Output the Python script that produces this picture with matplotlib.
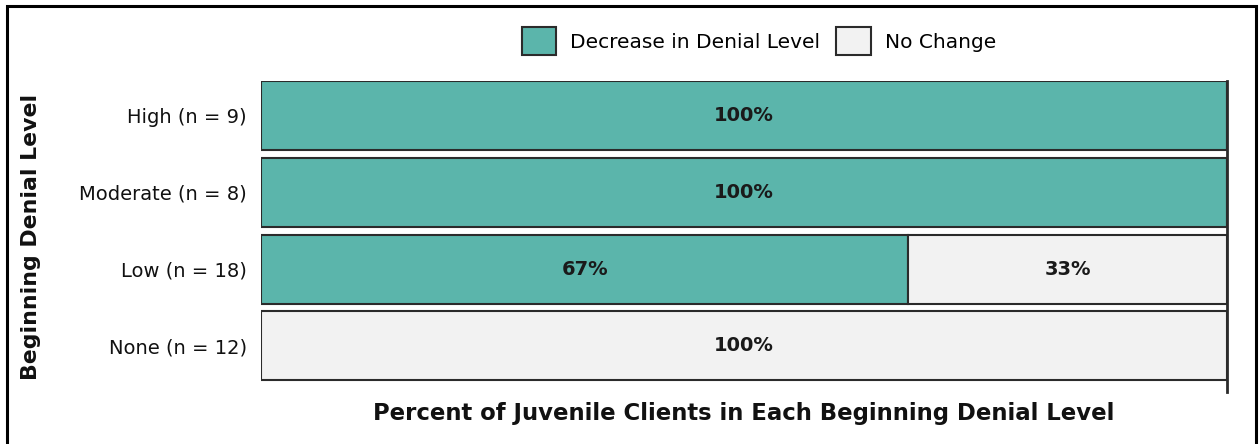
import matplotlib.pyplot as plt
from matplotlib.patches import Rectangle, Patch

# denial level groups and share of clients (percent)
levels = ["High (n = 9)", "Moderate (n = 8)", "Low (n = 18)", "None (n = 12)"]
decrease = [100, 100, 67, 0]
no_change = [0, 0, 33, 100]

teal = "#5BB5AB"
grey = "#F2F2F2"
edge = "#2b2b2b"

W, H = 1259, 444
fig = plt.figure(figsize=(W / 100, H / 100), dpi=100)
ax = fig.add_axes([261 / W, 1 - 392 / H, (1227 - 261) / W, (392 - 81) / H])

ypos = list(range(len(levels)))
ax.barh(ypos, decrease, height=0.9, color=teal, edgecolor=edge, linewidth=1.5)
ax.barh(ypos, no_change, left=decrease, height=0.9, color=grey, edgecolor=edge, linewidth=1.5)

# percentage labels in the middle of each non-empty segment
for y, d, n in zip(ypos, decrease, no_change):
    if d > 0:
        ax.text(d / 2, y, f"{d}%", ha="center", va="center", fontsize=14, fontweight="bold", color="#1a1a1a")
    if n > 0:
        ax.text(d + n / 2, y, f"{n}%", ha="center", va="center", fontsize=14, fontweight="bold", color="#1a1a1a")

ax.set_xlim(0, 100)
ax.set_ylim(3.6, -0.45)
ax.set_yticks(ypos)
ax.set_yticklabels(levels, fontsize=14, color="#111111")
ax.set_xticks([])
ax.tick_params(axis="y", length=0, pad=10)
for s in ["top", "bottom", "left"]:
    ax.spines[s].set_visible(False)
ax.spines["right"].set_linewidth(2)
ax.spines["right"].set_color(edge)

fig.text(744 / W, 1 - 413 / H, "Percent of Juvenile Clients in Each Beginning Denial Level",
         ha="center", va="center", fontsize=16.4, fontweight="bold", color="#111111")
fig.text(31 / W, 1 - 237 / H, "Beginning Denial Level", rotation=90,
         ha="center", va="center", fontsize=15.8, fontweight="bold", color="#111111")

handles = [Patch(facecolor=teal, edgecolor=edge, linewidth=1.5, label="Decrease in Denial Level"),
           Patch(facecolor=grey, edgecolor=edge, linewidth=1.5, label="No Change")]
fig.legend(handles=handles, loc="center", bbox_to_anchor=(759 / W, 1 - 41 / H), ncol=2,
           frameon=False, fontsize=14.5, handlelength=1.7, handleheight=1.7,
           handletextpad=0.7, columnspacing=0.8)

# outer frame around the whole figure
fig.patches.append(Rectangle((7 / W, -0.05), (1256 - 7) / W, 1.05 - 6 / H,
                             transform=fig.transFigure, fill=False,
                             edgecolor="black", linewidth=2.2))

fig.savefig("out.png", dpi=100)
